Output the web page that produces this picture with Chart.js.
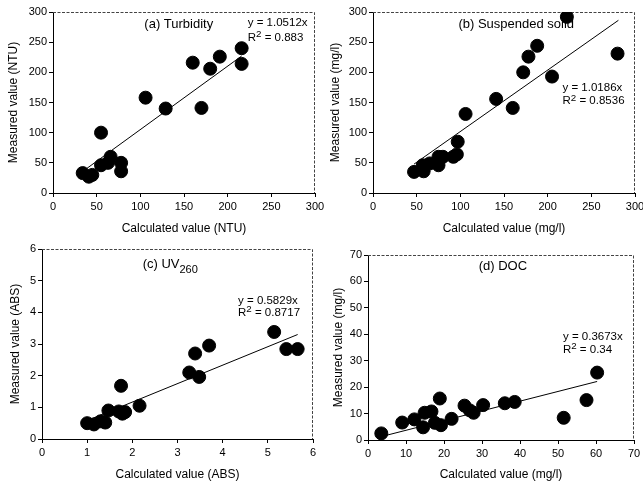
<!DOCTYPE html>
<html>
<head>
<meta charset="utf-8">
<script src="https://cdn.jsdelivr.net/npm/chart.js@4.4.0/dist/chart.umd.min.js"></script>
<style>
  body { margin: 0; background: #fff; width: 643px; height: 482px; position: relative; overflow: hidden; }
  canvas { position: absolute; }
</style>
</head>
<body>
<canvas id="ca" width="335" height="240" style="left:0;top:0"></canvas>
<canvas id="cb" width="322" height="240" style="left:321px;top:0"></canvas>
<canvas id="cc" width="335" height="242" style="left:0;top:240px"></canvas>
<canvas id="cd" width="322" height="242" style="left:321px;top:240px"></canvas>
<script>
// (a) turbidity, NTU
var turbCalc = [34, 41, 45, 55, 55, 63, 66, 78, 78, 106, 129, 160, 170, 180, 191, 216, 216];
var turbMeas = [33, 27, 30, 100, 46, 50, 60, 50, 36, 158, 140, 216, 141, 206, 226, 240, 214];
// (b) suspended solid, mg/l
var ssCalc = [47, 57, 58, 65, 75, 75, 80, 92, 96, 97, 106, 141, 160, 172, 178, 188, 205, 222, 280];
var ssMeas = [35, 46, 36, 49, 46, 60, 60, 60, 64, 85, 131, 156, 141, 200, 226, 244, 193, 292, 231];
// (c) UV260, ABS
var uvCalc = [1.0, 1.15, 1.3, 1.4, 1.47, 1.7, 1.75, 1.78, 1.84, 2.16, 3.26, 3.39, 3.48, 3.7, 5.14, 5.41, 5.66];
var uvMeas = [0.5, 0.46, 0.56, 0.52, 0.9, 0.87, 1.68, 0.8, 0.85, 1.05, 2.1, 2.7, 1.96, 2.95, 3.38, 2.84, 2.84];
// (d) DOC, mg/l
var docCalc = [3.5, 9, 12.2, 14.5, 14.9, 16.7, 17.6, 18.9, 19.2, 22, 25.4, 26.8, 27.8, 30.3, 36, 38.6, 51.5, 57.5, 60.3];
var docMeas = [2.5, 6.6, 7.8, 4.8, 10.3, 10.8, 6.5, 15.7, 5.6, 8, 13, 11.2, 10.3, 13.2, 13.9, 14.4, 8.4, 15.1, 25.5];

// trend lines y = slope * x, drawn over the fitted x range
var slopes = [1.0512, 1.0186, 0.5829, 0.3673];
var fitRange = [[38, 216], [47, 281], [1.0, 5.66], [3.3, 60.3]];
var eqText = ['y = 1.0512x', 'y = 1.0186x', 'y = 0.5829x', 'y = 0.3673x'];
var r2Text = ['0.883', '0.8536', '0.8717', '0.34'];
var panelTitles = [
  [{t: '(a) Turbidity'}],
  [{t: '(b) Suspended solid'}],
  [{t: '(c) UV'}, {t: '260', s: 'sub'}],
  [{t: '(d) DOC'}]
];
var xTitles = ['Calculated value (NTU)', 'Calculated value (mg/l)', 'Calculated value (ABS)', 'Calculated value (mg/l)'];
var yTitles = ['Measured value (NTU)', 'Measured value (mg/l)', 'Measured value (ABS)', 'Measured value (mg/l)'];
var axisMax = [300, 300, 6, 70];
var axisStep = [50, 50, 1, 10];

var FONT = '"Liberation Sans", Arial, sans-serif';

function richText(ctx, parts, x, y, align, size) {
  var total = 0;
  parts.forEach(function(p) {
    ctx.font = (p.s ? size * 0.85 : size) + 'px ' + FONT;
    total += ctx.measureText(p.t).width;
  });
  var cx = align === 'center' ? x - total / 2 : x;
  ctx.textAlign = 'left';
  ctx.textBaseline = 'middle';
  parts.forEach(function(p) {
    var fs = p.s ? size * 0.85 : size;
    ctx.font = fs + 'px ' + FONT;
    var dy = p.s === 'sub' ? size * 0.38 : (p.s === 'sup' ? -size * 0.3 : 0);
    ctx.fillText(p.t, cx, y + dy);
    cx += ctx.measureText(p.t).width;
  });
}

var framePlugin = {
  id: 'frame',
  beforeDatasetsDraw: function(chart) {
    var a = chart.chartArea, ctx = chart.ctx;
    ctx.save();
    ctx.strokeStyle = '#444';
    ctx.lineWidth = 1;
    ctx.setLineDash([3, 1.5]);
    ctx.beginPath();
    ctx.moveTo(a.left, a.top + 0.5);
    ctx.lineTo(a.right - 0.5, a.top + 0.5);
    ctx.lineTo(a.right - 0.5, a.bottom);
    ctx.stroke();
    ctx.restore();
  }
};

var notesPlugin = {
  id: 'notes',
  afterDatasetsDraw: function(chart, args, opts) {
    var ctx = chart.ctx, sx = chart.scales.x, sy = chart.scales.y;
    ctx.save();
    ctx.fillStyle = '#000';
    richText(ctx, opts.title, sx.getPixelForValue(opts.titlePos[0]), sy.getPixelForValue(opts.titlePos[1]), 'center', 13);
    var ex = sx.getPixelForValue(opts.eqPos[0]);
    richText(ctx, [{t: opts.eq}], ex, sy.getPixelForValue(opts.eqPos[1]), 'left', 11.5);
    richText(ctx, [{t: 'R'}, {t: '2', s: 'sup'}, {t: ' = ' + opts.r2}], ex, sy.getPixelForValue(opts.r2Pos), 'left', 11.5);
    ctx.restore();
  }
};

function makePanel(id, i, calc, meas, box, notes) {
  var pts = calc.map(function(v, k) { return {x: v, y: meas[k]}; });
  var line = fitRange[i].map(function(v) { return {x: v, y: slopes[i] * v}; });
  new Chart(document.getElementById(id), {
    type: 'scatter',
    data: {
      datasets: [{
        data: pts,
        backgroundColor: '#000',
        borderColor: '#000',
        pointRadius: 6.5,
        pointHoverRadius: 6.5
      }, {
        type: 'line',
        data: line,
        borderColor: '#000',
        borderWidth: 1,
        pointRadius: 0,
        fill: false
      }]
    },
    plugins: [framePlugin, notesPlugin],
    options: {
      responsive: false,
      animation: false,
      events: [],
      layout: { padding: { left: 0, right: box.right, top: box.top, bottom: 0 } },
      plugins: {
        legend: { display: false },
        tooltip: { enabled: false },
        notes: notes
      },
      scales: {
        x: {
          type: 'linear', min: 0, max: axisMax[i],
          ticks: { stepSize: axisStep[i], color: '#000', font: { family: FONT, size: 11 }, padding: 3, maxRotation: 0, autoSkip: false },
          grid: { drawOnChartArea: false, drawTicks: true, tickLength: 4, color: '#000' },
          border: { color: '#000', dash: [3, 1] },
          title: { display: true, text: xTitles[i], color: '#000', font: { family: FONT, size: 12 }, padding: { top: 0, bottom: box.xTitlePad } },
          afterFit: function(s) { s.height = box.xh; s.paddingLeft = 0; s.paddingRight = 0; }
        },
        y: {
          type: 'linear', min: 0, max: axisMax[i],
          ticks: { stepSize: axisStep[i], color: '#000', font: { family: FONT, size: 11 }, padding: 2 },
          grid: { drawOnChartArea: false, drawTicks: true, tickLength: 4, color: '#000' },
          border: { color: '#000' },
          title: { display: true, text: yTitles[i], color: '#000', font: { family: FONT, size: 12 }, padding: { top: box.yTitlePad, bottom: 0 } },
          afterFit: function(s) { s.width = box.yw; s.paddingTop = 0; s.paddingBottom = 0; }
        }
      }
    }
  });
}

makePanel('ca', 0, turbCalc, turbMeas,
  { right: 20, top: 12, xh: 47, yw: 53, xTitlePad: 4, yTitlePad: 6 },
  { title: panelTitles[0], titlePos: [144, 280], eq: eqText[0], eqPos: [223, 282], r2: r2Text[0], r2Pos: 257 });
makePanel('cb', 1, ssCalc, ssMeas,
  { right: 8, top: 12, xh: 47, yw: 52, xTitlePad: 4, yTitlePad: 7 },
  { title: panelTitles[1], titlePos: [164, 280], eq: eqText[1], eqPos: [217, 174], r2: r2Text[1], r2Pos: 152 });
makePanel('cc', 2, uvCalc, uvMeas,
  { right: 22, top: 9, xh: 43, yw: 42, xTitlePad: 0, yTitlePad: 8 },
  { title: panelTitles[2], titlePos: [2.84, 5.5], eq: eqText[2], eqPos: [4.34, 4.37], r2: r2Text[2], r2Pos: 4.0 });
makePanel('cd', 3, docCalc, docMeas,
  { right: 9, top: 15, xh: 42, yw: 47, xTitlePad: 0, yTitlePad: 10 },
  { title: panelTitles[3], titlePos: [35.5, 65.5], eq: eqText[3], eqPos: [51.3, 39], r2: r2Text[3], r2Pos: 34 });
</script>
</body>
</html>
